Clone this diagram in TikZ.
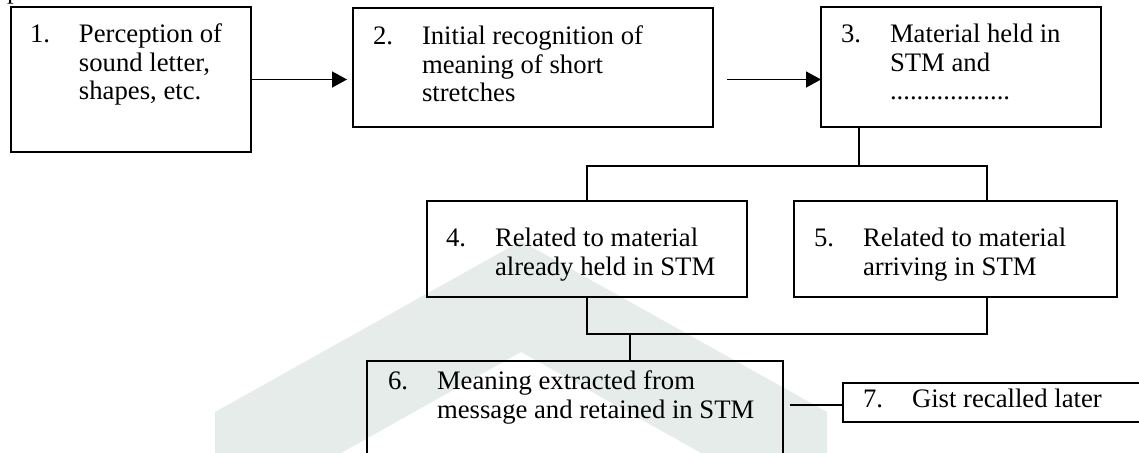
\documentclass[tikz,border=0pt]{standalone}
\usepackage{fontspec}
\setmainfont{Liberation Serif}
\usetikzlibrary{arrows.meta}
\definecolor{wmark}{RGB}{230,236,234}
% numbered entry: number in a fixed column, text hanging beside it
\newcommand\stagetext[2]{\begin{tabular}[t]{@{}p{24.5pt}@{}l@{}}#1&#2\end{tabular}}
\begin{document}
\begin{tikzpicture}[x=0.5pt,y=-0.5pt,
  box/.style={draw, line width=1pt, rectangle, inner sep=0pt, outer sep=0pt, anchor=north west},
  lbl/.style={anchor=base west, inner sep=0pt, outer sep=0pt, font=\fontsize{13.35pt}{14.25pt}\selectfont},
  link/.style={line width=0.7pt},
  flow/.style={line width=0.75pt, -{Triangle[length=7.5pt,width=8pt]}}]
\useasboundingbox (0,0) rectangle (1139,453);
\clip (0,0) rectangle (1139,453);

% background chevron mark
\fill[wmark] (215,453) -- (215,412) -- (521,241) -- (827,412) -- (827,453)
  -- (701,453) -- (521,352) -- (341,453) -- cycle;

% tail of the preceding line of text
\node[lbl] (pfrag) at (7,-1) {p};

% stage boxes
\node[box, minimum width=120pt, minimum height=72.5pt] (b1) at (11,7) {};
\node[box, minimum width=180pt, minimum height=59.5pt] (b2) at (353,8) {};
\node[box, minimum width=140pt, minimum height=60pt]   (b3) at (821,7) {};
\node[box, minimum width=160pt, minimum height=48pt]   (b4) at (427,201) {};
\node[box, minimum width=161.5pt, minimum height=48pt] (b5) at (794,201) {};
\node[box, minimum width=208pt, minimum height=60pt]   (b6) at (367,361) {};
\node[box, minimum width=160pt, minimum height=19.5pt] (b7) at (843,383) {};

% stage texts
\node[lbl] (t1) at (30,43)   {\stagetext{1.}{Perception of\\&sound letter,\\&shapes, etc.}};
\node[lbl] (t2) at (373,45)  {\stagetext{2.}{Initial recognition of\\&meaning of short\\&stretches}};
\node[lbl] (t3) at (841,43)  {\stagetext{3.}{Material held in\\&STM and\\&..................}};
\node[lbl] (t4) at (446,247) {\stagetext{4.}{Related to material\\&already held in STM}};
\node[lbl] (t5) at (814,247) {\stagetext{5.}{Related to material\\&arriving in STM}};
\node[lbl] (t6) at (388,390) {\stagetext{6.}{Meaning extracted from\\&message and retained in STM}};
\node[lbl] (t7) at (863,408) {\stagetext{7.}{Gist recalled later}};

% arrows along the top row
\draw[flow, shorten >=3pt] (b1.east) -- (b1.east -| b2.west);
\draw[flow, shorten <=7pt] (b1.east -| b2.east) -- (b1.east -| b3.west);

% split from stage 3 into stages 4 and 5
\coordinate (j3) at (859,166);
\coordinate (jl) at (587,166);
\coordinate (jr) at (987,166);
\draw[link] (b3.south -| j3) -- (j3);
\draw[link] (b4.north -| jl) -- (jl) -- (jr) -- (b5.north -| jr);

% merge of stages 4 and 5 into stage 6
\coordinate (kl) at (587,334);
\coordinate (kr) at (987,334);
\coordinate (k6) at (630,334);
\draw[link] (b4.south -| kl) -- (kl) -- (kr) -- (b5.south -| kr);
\draw[link] (k6) -- (b6.north -| k6);

% stage 6 to stage 7
\coordinate (m7) at (843,405);
\draw[link, shorten <=3.5pt] (b6.east |- m7) -- (b7.west |- m7);
\end{tikzpicture}
\end{document}
